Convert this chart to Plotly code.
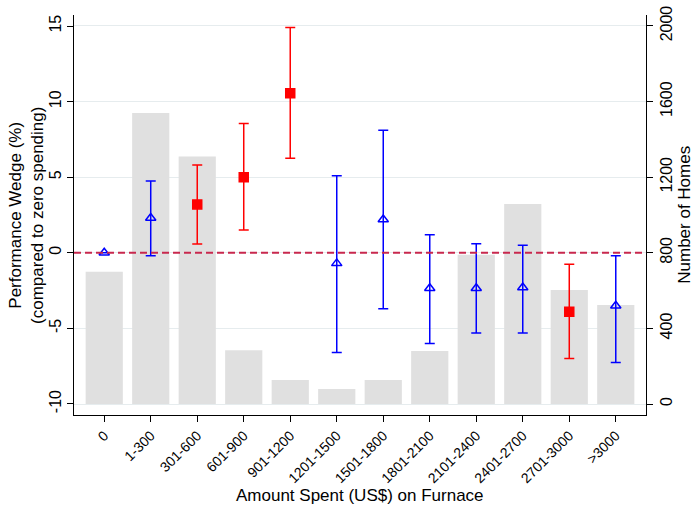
import plotly.graph_objects as go

categories = ["0", "1-300", "301-600", "601-900", "901-1200", "1201-1500", "1501-1800",
              "1801-2100", "2101-2400", "2401-2700", "2701-3000", ">3000"]
homes = [700, 1540, 1310, 285, 127, 80, 127, 280, 790, 1058, 603, 524]
wedge = [0.0, 2.3, 3.2, 5.0, 10.55, -0.7, 2.2, -2.35, -2.35, -2.3, -3.9, -3.5]
upper = [0.0, 4.75, 5.8, 8.55, 14.9, 5.1, 8.1, 1.2, 0.6, 0.5, -0.75, -0.2]
lower = [0.0, -0.2, 0.58, 1.5, 6.25, -6.6, -3.7, -6.0, -5.3, -5.3, -7.0, -7.25]
significant = [False, False, True, True, True, False, False, False, False, False, True, False]

x_idx = list(range(len(categories)))

fig = go.Figure()

fig.add_trace(go.Bar(
    x=x_idx, y=homes, yaxis="y", width=0.8,
    marker=dict(color="#e0e0e0", line=dict(width=0)),
    showlegend=False, hoverinfo="skip",
))

def add_group(sel, color, symbol):
    xs = [x_idx[i] for i in range(len(x_idx)) if sel(i)]
    ys = [wedge[i] for i in range(len(x_idx)) if sel(i)]
    ep = [upper[i] - wedge[i] for i in range(len(x_idx)) if sel(i)]
    em = [wedge[i] - lower[i] for i in range(len(x_idx)) if sel(i)]
    fig.add_trace(go.Scatter(
        x=xs, y=ys, mode="markers", yaxis="y2",
        marker=dict(symbol=symbol, size=9, color=color,
                    line=dict(color=color, width=1.5)),
        error_y=dict(type="data", symmetric=False, array=ep, arrayminus=em,
                     color=color, thickness=1.5, width=5, visible=True),
        showlegend=False,
    ))

fig.add_shape(type="line", xref="paper", yref="y2", x0=0, x1=1, y0=0, y1=0,
              line=dict(color="#c8284e", width=2, dash="7px,4px"))

add_group(lambda i: significant[i], "#ff0000", "square")
add_group(lambda i: not significant[i], "#0000ff", "triangle-up-open")

fig.update_layout(
    width=696, height=509,
    margin=dict(l=74, r=50, t=15, b=94),
    paper_bgcolor="white", plot_bgcolor="white",
    font=dict(family="Liberation Sans, Arial, sans-serif", size=15, color="black"),
    xaxis=dict(
        tickmode="array", tickvals=x_idx, ticktext=categories, automargin=False,
        range=[-0.65, 11.65], tickangle=-45, ticks="outside", ticklen=6,
        tickcolor="black", showline=True, linecolor="black", linewidth=1,
        showgrid=False, zeroline=False, tickfont=dict(size=14),
    ),
    yaxis=dict(
        side="right", range=[-58, 2058], automargin=False,
        tickvals=[0, 400, 800, 1200, 1600, 2000],
        tickangle=-90, ticks="outside", ticklen=6, tickcolor="black",
        showline=True, linecolor="black", linewidth=1,
        showgrid=True, gridcolor="#e6ecee", gridwidth=1, zeroline=False,
        tickfont=dict(size=16),
    ),
    yaxis2=dict(
        overlaying="y", side="left", automargin=False,
        range=[-10.73, 15.73], tickvals=[-10, -5, 0, 5, 10, 15],
        ticktext=["-10", "-5", "0", "5", "10", "15"],
        tickangle=-90, ticks="outside", ticklen=6, tickcolor="black",
        showline=True, linecolor="black", linewidth=1,
        showgrid=False, zeroline=False,
        tickfont=dict(size=16),
    ),
    annotations=[
        dict(text="Performance Wedge (%)<br>(compared to zero spending)",
             xref="paper", yref="paper", x=-0.084, y=0.5, xanchor="center",
             yanchor="middle", textangle=-90, showarrow=False,
             font=dict(size=17)),
        dict(text="Number of Homes", xref="paper", yref="paper", x=1.066, y=0.5,
             xanchor="center", yanchor="middle", textangle=-90, showarrow=False,
             font=dict(size=17)),
        dict(text="Amount Spent (US$) on Furnace", xref="paper", yref="paper",
             x=0.5, y=-0.2, xanchor="center", yanchor="middle", showarrow=False,
             font=dict(size=17)),
    ],
)

fig.write_html("out.html")
